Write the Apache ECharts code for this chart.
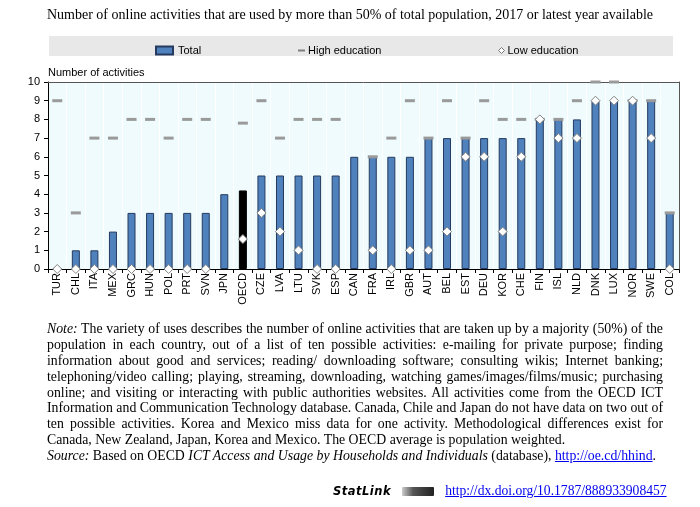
<!DOCTYPE html>
<html>
<head>
<meta charset="utf-8">
<script src="https://cdn.jsdelivr.net/npm/echarts@6/dist/echarts.min.js"></script>
<style>
  html, body { margin:0; padding:0; background:#fff; }
  #chart { position:absolute; left:0; top:0; width:700px; height:507px; }
  #notes { position:absolute; left:47px; top:321px; width:616px; font-family:'Liberation Serif','Times New Roman',serif; font-size:13.8px; color:#000; }
  #notes div { height:15.9px; line-height:15.9px; white-space:nowrap; overflow:visible; }
  #notes div.j { text-align:justify; text-align-last:justify; white-space:normal; }
  #notes a { color:#0000ee; text-decoration:underline; }
  #stat { position:absolute; left:333px; top:481px; height:18px; line-height:18px; white-space:nowrap; }
  #stat .sl { font-family:'DejaVu Sans',sans-serif; font-weight:bold; font-style:italic; font-size:11.5px; letter-spacing:0.5px; }
  #stat .logo { display:inline-block; width:32px; height:9px; margin:0 11px 0 11px; vertical-align:-1px; background:linear-gradient(90deg,#ccc 0%,#555 35%,#222 100%); border-radius:1px; }
  #stat a { font-family:'Liberation Serif','Times New Roman',serif; font-size:13.6px; color:#0000ee; text-decoration:underline; }
</style>
</head>
<body>
<div id="chart"></div>
<div id="notes">
  <div class="j"><i>Note:</i> The variety of uses describes the number of online activities that are taken up by a majority (50%) of the</div>
  <div class="j">population in each country, out of a list of ten possible activities: e-mailing for private purpose; finding</div>
  <div class="j">information about good and services; reading/ downloading software; consulting wikis; Internet banking;</div>
  <div class="j">telephoning/video calling; playing, streaming, downloading, watching games/images/films/music; purchasing</div>
  <div class="j">online; and visiting or interacting with public authorities websites. All activities come from the OECD ICT</div>
  <div class="j">Information and Communication Technology database. Canada, Chile and Japan do not have data on two out of</div>
  <div class="j">ten possible activities. Korea and Mexico miss data for one activity. Methodological differences exist for</div>
  <div>Canada, New Zealand, Japan, Korea and Mexico. The OECD average is population weighted.</div>
  <div><i>Source:</i> Based on OECD <i>ICT Access and Usage by Households and Individuals</i> (database), <a>http://oe.cd/hhind</a>.</div>
</div>
<div id="stat"><span class="sl">StatLink</span><span class="logo"></span><a>http://dx.doi.org/10.1787/888933908457</a></div>
<script>
const categories = ['TUR','CHL','ITA','MEX','GRC','HUN','POL','PRT','SVN','JPN','OECD','CZE','LVA','LTU','SVK','ESP','CAN','FRA','IRL','GBR','AUT','BEL','EST','DEU','KOR','CHE','FIN','ISL','NLD','DNK','LUX','NOR','SWE','COL'];
const total = [0,1,1,2,3,3,3,3,3,4,4.2,5,5,5,5,5,6,6,6,6,7,7,7,7,7,7,8,8,8,9,9,9,9,3];
const highEdu = [9,3,7,7,8,8,7,8,8,null,7.8,9,7,8,8,8,null,6,7,9,7,9,7,9,8,8,8,8,9,10,10,9,9,3];
const lowEdu = [0,0,0,0,0,0,0,0,0,null,1.6,3,2,1,0,0,null,1,0,1,1,2,6,6,2,6,8,7,7,9,9,9,7,0];
const yTicks = [0,1,2,3,4,5,6,7,8,9,10];

const sansFont = "'Liberation Sans Narrow','Arial Narrow','Liberation Sans',Arial,sans-serif";
const chart = echarts.init(document.getElementById('chart'), null, {renderer:'canvas'});

const option = {
  animation: false,
  title: {
    text: 'Number of online activities that are used by more than 50% of total population, 2017 or latest year available',
    left: 'center', top: 3,
    textStyle: { fontFamily: "'Liberation Serif','Times New Roman',serif", fontSize: 14, fontWeight: 'normal', color: '#000' }
  },
  graphic: [
    { type: 'rect', shape: { x: 49, y: 36, width: 624, height: 20 }, style: { fill: '#e8e8e8' }, z: -10 }
  ],
  legend: [
    { data: ['Total'], left: 150, top: 40, itemWidth: 17, itemHeight: 8, icon: 'rect', itemGap: 0,
      textStyle: { fontFamily: sansFont, fontSize: 11, color: '#000' } },
    { data: ['High education'], left: 293, top: 40, itemWidth: 7, itemHeight: 2, icon: 'rect', itemGap: 0,
      itemStyle: { color: '#7f7f7f', borderWidth: 0 },
      textStyle: { fontFamily: sansFont, fontSize: 11, color: '#000', padding: [0,0,0,-2] } },
    { data: ['Low education'], left: 493, top: 40, itemWidth: 6, itemHeight: 6, icon: 'diamond', itemGap: 0,
      itemStyle: { color: '#fff', borderColor: '#777', borderWidth: 1 },
      textStyle: { fontFamily: sansFont, fontSize: 11, color: '#000', padding: [0,0,0,-2] } }
  ],
  grid: {
    left: 48, right: 21, top: 82, bottom: 238,
    show: true, backgroundColor: '#effbfc', borderWidth: 0
  },
  xAxis: [{
    type: 'category', data: categories, boundaryGap: true,
    axisLine: { lineStyle: { color: '#000', width: 1 } },
    axisTick: { show: true, length: 4, lineStyle: { color: '#000' } },
    splitLine: { show: true, lineStyle: { color: '#ffffff', width: 1 } },
    axisLabel: { rotate: 90, interval: 0, margin: 4, fontFamily: sansFont, fontSize: 11, color: '#000' },
    z: 5
  }, {
    type: 'category', data: categories, position: 'top', boundaryGap: true,
    axisLine: { show: true, onZero: false, lineStyle: { color: '#555', width: 1 } },
    axisTick: { show: false }, axisLabel: { show: false }, splitLine: { show: false },
    z: 6
  }],
  yAxis: [{
    type: 'value', min: 0, max: 10, interval: 1,
    name: 'Number of activities', nameLocation: 'end', nameGap: 4,
    nameTextStyle: { align: 'left', fontFamily: sansFont, fontSize: 11, color: '#000' },
    axisLine: { show: true, lineStyle: { color: '#000', width: 1 } },
    axisTick: { show: true, length: 4, lineStyle: { color: '#000' } },
    splitLine: { show: false },
    axisLabel: { margin: 8, fontFamily: sansFont, fontSize: 11, color: '#000',
      formatter: v => yTicks.includes(v) ? String(v) : '' },
    z: 5
  }, {
    type: 'value', min: 0, max: 10, interval: 1, position: 'right',
    axisLine: { show: true, onZero: false, lineStyle: { color: '#555', width: 1 } },
    axisTick: { show: false }, axisLabel: { show: false }, splitLine: { show: false },
    z: 6
  }],
  series: [
    { name: 'Total', type: 'bar', barWidth: 8,
      data: total.map((v, i) => categories[i] === 'OECD'
        ? { value: v, itemStyle: { color: '#000', borderColor: '#000' } } : v),
      itemStyle: { color: '#4f81bd', borderColor: '#253a5e', borderWidth: 1 }, z: 2 },
    { name: 'High education', type: 'scatter', symbol: 'rect', symbolSize: [10, 3], clip: false,
      data: highEdu, itemStyle: { color: '#9a9a9a', opacity: 1 }, z: 7 },
    { name: 'Low education', type: 'scatter', symbol: 'diamond', symbolSize: 9, clip: false,
      data: lowEdu, itemStyle: { color: '#ffffff', borderColor: '#808080', borderWidth: 1, opacity: 1 }, z: 8 }
  ]
};
chart.setOption(option);
</script>
</body>
</html>
